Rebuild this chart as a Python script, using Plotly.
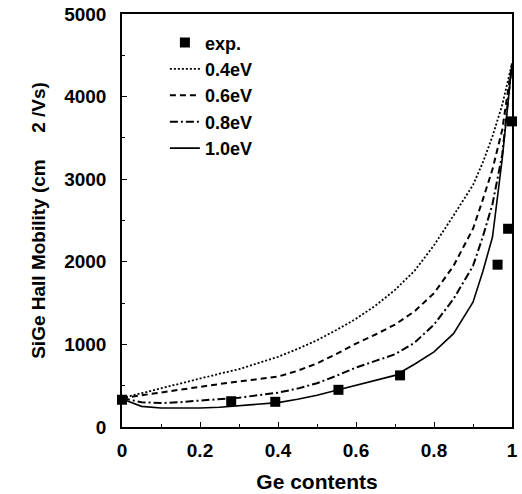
import plotly.graph_objects as go

ge = [0, 0.05, 0.1, 0.15, 0.2, 0.25, 0.3, 0.35, 0.4, 0.45, 0.5, 0.55, 0.6,
      0.65, 0.7, 0.75, 0.8, 0.85, 0.9, 0.925, 0.95, 0.975, 1.0]
mob_04 = [350, 410, 470, 530, 590, 645, 700, 775, 850, 945, 1050, 1175, 1310,
          1470, 1660, 1890, 2200, 2560, 2930, 3200, 3520, 3900, 4400]
mob_06 = [350, 385, 420, 455, 490, 520, 550, 580, 610, 680, 770, 885, 1010,
          1120, 1240, 1400, 1620, 1950, 2400, 2750, 3120, 3600, 4400]
mob_08 = [350, 300, 290, 300, 320, 335, 355, 385, 415, 465, 530, 620, 720,
          800, 880, 1020, 1240, 1550, 1950, 2300, 2700, 3300, 4400]
mob_10 = [340, 250, 230, 228, 230, 240, 258, 275, 295, 335, 385, 445, 505,
          565, 625, 760, 910, 1130, 1510, 1880, 2300, 3250, 4400]

exp_x = [0, 0.28, 0.393, 0.555, 0.713, 0.963, 0.99, 1.0]
exp_y = [330, 312, 305, 450, 625, 1965, 2400, 3700]

font_family = "Liberation Sans, Arial, sans-serif"

fig = go.Figure()
fig.add_trace(go.Scatter(x=exp_x, y=exp_y, mode="markers", name="exp.",
                         marker=dict(symbol="square", size=10, color="black"),
                         cliponaxis=False))
for name, ys, dash, w in [("0.4eV", mob_04, "2px,2px", 1.8),
                          ("0.6eV", mob_06, "6px,4px", 2.0),
                          ("0.8eV", mob_08, "8px,3px,2px,3px", 2.0),
                          ("1.0eV", mob_10, "solid", 1.6)]:
    fig.add_trace(go.Scatter(x=ge, y=ys, mode="lines", name=name,
                             line=dict(color="black", dash=dash, width=w)))

fig.update_layout(
    width=522, height=494,
    margin=dict(l=122, r=4, t=14, b=67),
    paper_bgcolor="white", plot_bgcolor="white",
    font=dict(family=font_family, size=19, color="black", weight="bold"),
    showlegend=True,
    legend=dict(x=0.11, y=0.975, xanchor="left", yanchor="top",
                bgcolor="rgba(0,0,0,0)", font=dict(size=18, weight="bold")),
)
fig.update_xaxes(
    range=[0, 1], tickvals=[0, 0.2, 0.4, 0.6, 0.8, 1.0],
    ticktext=["0", "0.2", "0.4", "0.6", "0.8", "1"],
    ticks="inside", ticklen=5, tickwidth=1, tickcolor="black",
    minor=dict(dtick=0.1, ticks="inside", ticklen=3, tickcolor="black"),
    showline=True, linecolor="black", linewidth=1.5, mirror=True,
    showgrid=False, zeroline=False,
    tickfont=dict(size=19, weight="bold"), ticklabelstandoff=5,
    title=dict(text="Ge contents", font=dict(size=21, weight="bold"), standoff=15),
)
fig.update_yaxes(
    range=[0, 5000], tickvals=[0, 1000, 2000, 3000, 4000, 5000],
    ticks="inside", ticklen=5, tickwidth=1, tickcolor="black",
    minor=dict(dtick=500, ticks="inside", ticklen=3, tickcolor="black"),
    showline=True, linecolor="black", linewidth=1.5, mirror=True,
    showgrid=False, zeroline=False,
    tickfont=dict(size=19, weight="bold"), ticklabelstandoff=10,
    title=dict(text="SiGe Hall Mobility (cm\u00a0\u00a0\u00a0\u00a0\u00a02 /Vs)",
               font=dict(size=19, weight="bold"), standoff=14),
)

fig.write_html("out.html")
